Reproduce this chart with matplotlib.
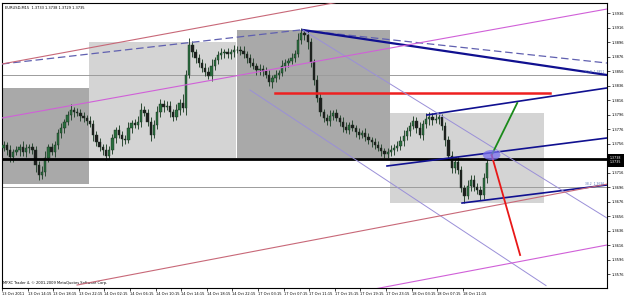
import matplotlib
matplotlib.use('Agg')
import matplotlib.pyplot as plt
from matplotlib.patches import Rectangle, Ellipse
import matplotlib.transforms as mtrans

# ---------------- data ----------------
symbol_header = "EURUSD,M15  1.3733 1.3738 1.3729 1.3735"
copyright_txt = "MFXC Trader 4, \u00a9 2001-2009 MetaQuotes Software Corp."

# closes of consecutive 30-minute candles (two M15 bars each)
closes = [
    1.3754, 1.3747, 1.3737, 1.3744, 1.3747, 1.3751, 1.3744, 1.3750, 1.3751, 1.3747,
    1.3726, 1.3712, 1.3717, 1.3736, 1.3751, 1.3744, 1.3754, 1.3770, 1.3777, 1.3786,
    1.3795, 1.3802, 1.3799, 1.3798, 1.3794, 1.3791, 1.3787, 1.3783, 1.3768, 1.3758,
    1.3751, 1.3747, 1.3739, 1.3747, 1.3764, 1.3775, 1.3768, 1.3762, 1.3761, 1.3777,
    1.3784, 1.3782, 1.3786, 1.3802, 1.3798, 1.3786, 1.3768, 1.3782, 1.3799, 1.3811,
    1.3806, 1.3808, 1.3799, 1.3793, 1.3802, 1.3812, 1.3805, 1.3851, 1.3892, 1.3882,
    1.3874, 1.3867, 1.3860, 1.3855, 1.3849, 1.3863, 1.3871, 1.3878, 1.3881, 1.3882,
    1.3879, 1.3882, 1.3885, 1.3885, 1.3884, 1.3879, 1.3874, 1.3867, 1.3863, 1.3857,
    1.3859, 1.3856, 1.3851, 1.3841, 1.3846, 1.3851, 1.3853, 1.3863, 1.3867, 1.3870,
    1.3874, 1.3879, 1.3899, 1.3908, 1.3906, 1.3896, 1.3868, 1.3844, 1.3819, 1.3799,
    1.3791, 1.3787, 1.3794, 1.3798, 1.3791, 1.3786, 1.3779, 1.3775, 1.3782, 1.3777,
    1.3772, 1.3768, 1.3770, 1.3765, 1.3761, 1.3758, 1.3754, 1.3750, 1.3746, 1.3742,
    1.3744, 1.3747, 1.3750, 1.3753, 1.3759, 1.3766, 1.3773, 1.3780, 1.3787, 1.3777,
    1.3768, 1.3783, 1.3790, 1.3793, 1.3788, 1.3790, 1.3793, 1.3780, 1.3761, 1.3739,
    1.3722, 1.3730, 1.3719, 1.3695, 1.3683, 1.3697, 1.3706, 1.3696, 1.3692, 1.3685,
    1.3708, 1.3729,
]
first_open = 1.3750
# wick lengths in pips above / below the candle body
up_wick = [6,4,7,5,6,4,8,5,4,6, 5,6,8,9,4,6,5,6,7,4, 6,8,4,6,5,6,4,7,6,5,
           6,4,8,6,5,4,7,5,6,9, 4,6,8,10,6,5,7,6,9,6, 5,7,6,4,9,6,12,7,10,6,
           4,6,5,7,6,9,4,6,7,5, 6,4,7,6,5,6,4,6,7,4, 6,5,6,7,4,6,5,8,6,4,
           7,6,9,8,6,5,6,4,7,6, 5,6,8,4,6,5,6,7,4,6, 4,6,5,7,6,4,6,5,6,4,
           6,7,5,6,8,9,6,5,7,6, 9,6,8,6,5,7,6,4,6,5, 6,5,8,6,4,9,6,7,5,6, 7,6]
down_wick = [5,7,6,6,4,8,5,6,7,5, 9,6,5,6,6,4,7,5,6,6, 5,6,6,4,7,5,6,4,9,6,
             5,7,6,4,6,7,5,9,6,4, 6,5,6,7,4,6,9,5,6,7, 6,4,7,6,5,7,6,9,4,6,
             7,5,6,6,4,7,6,5,6,7, 5,6,7,4,6,5,7,6,4,6, 6,7,5,6,9,5,6,4,7,6,
             5,6,4,6,7,9,6,7,6,5, 6,5,7,6,4,6,7,5,6,4, 7,6,4,6,5,7,6,4,7,6,
             6,5,7,4,6,6,5,7,4,6, 5,7,6,9,6,4,7,6,9,5, 6,7,5,6,9,4,6,5,6,7, 5,6]

time_labels = ["13 Oct 2011", "13 Oct 14:15", "13 Oct 18:15", "13 Oct 22:15",
               "14 Oct 02:15", "14 Oct 06:15", "14 Oct 10:15", "14 Oct 14:15",
               "14 Oct 18:15", "14 Oct 22:15", "17 Oct 03:15", "17 Oct 07:15",
               "17 Oct 11:15", "17 Oct 15:15", "17 Oct 19:15", "17 Oct 23:15",
               "18 Oct 03:15", "18 Oct 07:15", "18 Oct 11:15"]
price_ticks = [1.3936, 1.3916, 1.3896, 1.3876, 1.3856, 1.3836, 1.3816, 1.3796,
               1.3776, 1.3756, 1.3736, 1.3716, 1.3696, 1.3676, 1.3656, 1.3636,
               1.3616, 1.3596, 1.3576]
bid_ask = ["1.3738", "1.3735"]

# drawing objects (time in M15 bars from chart start, price)
rectangles = [  # t0, t1, price_top, price_bottom, kind
    (0.0, 54.4, 1.38326, 1.37001, "dark"),
    (54.4, 146.3, 1.38960, 1.37360, "light"),
    (146.9, 242.5, 1.39126, 1.37360, "dark"),
    (242.5, 338.8, 1.37981, 1.36739, "light"),
]
black_level = 1.37346
gray_levels = [1.38505, 1.36960]
level_labels = [(1.38505, "61.8  1.3851"), (1.36960, "38.2  1.3696")]
red_level = (170.6, 342.5, 1.38257)
dashed_arc = ([0.0, 186.3, 378.1], [1.38657, 1.39126, 1.38670])
navy_thick = ([188.0, 378.1], [1.39126, 1.38505])
navy_channel = [([265.6, 378.1], [1.37953, 1.38326]),
                ([240.6, 378.1], [1.37250, 1.37636]),
                ([287.5, 378.1], [1.36739, 1.36988])]
violet_lines = [([188.0, 378.1], [1.39126, 1.36532]),
                ([155.0, 340.0], [1.38298, 1.35600])]
pink_lines = [([0.0, 378.1], [1.37912, 1.39415]),
              ([220.0, 378.1], [1.35500, 1.36160])]
rosy_lines = [([0.0, 210.0], [1.38657, 1.39510]),
              ([46.9, 378.1], [1.35608, 1.37000])]
green_arrow = ([306.0, 322.0], [1.37401, 1.38119])
red_arrow = ([306.0, 323.8], [1.37401, 1.36022])
ellipse_center = (306.0, 1.37401)

# ---------------- figure ----------------
W, H = 625, 296
fig = plt.figure(figsize=(W / 100, H / 100), dpi=100)
fig.patch.set_facecolor("white")
top_px, bot_px, left_px, right_px = 3, 288, 2, 607
ax = fig.add_axes([left_px / W, 1 - bot_px / H, (right_px - left_px) / W, (bot_px - top_px) / H])
ax.set_facecolor("white")
ax.set_xlim(0, 378.1)
ax.set_ylim(1.35567, 1.39498)

for t0, t1, pt, pb, kind in rectangles:
    ax.add_patch(Rectangle((t0, pb), t1 - t0, pt - pb, facecolor="#a9a9a9" if kind == "dark" else "#d4d4d4",
                           edgecolor="none", zorder=1))

for g in gray_levels:
    ax.axhline(g, color="#9c9c9c", lw=0.7, zorder=2)

# candles
opens = [first_open] + closes[:-1]
for i, c in enumerate(closes):
    o = opens[i]
    t = 2 * i + 1
    hi = max(o, c) + up_wick[i] * 0.0001
    lo = min(o, c) - down_wick[i] * 0.0001
    up = c >= o
    ax.vlines(t, lo, hi, color="#2c4a34", lw=0.7, zorder=4)
    h = abs(c - o) if abs(c - o) > 0.00005 else 0.00005
    ax.bar(t, h, bottom=min(o, c), width=1.4, color="#2a6e3e" if up else "#1e1e1e",
           edgecolor="#1a2e20", linewidth=0.3, zorder=5)

ax.axhline(black_level, color="black", lw=2.0, zorder=6)
ax.plot([red_level[0], red_level[1]], [red_level[2]] * 2, color="#ee2020", lw=1.8, zorder=6)

ax.plot(*dashed_arc, color="#6060b0", lw=0.9, ls=(0, (6, 3)), zorder=6)
ax.plot(*navy_thick, color="#101090", lw=1.6, zorder=6)
for xs, ys in navy_channel:
    ax.plot(xs, ys, color="#101090", lw=1.2, zorder=6)
for xs, ys in violet_lines:
    ax.plot(xs, ys, color="#9a8fd8", lw=0.7, zorder=6)
for xs, ys in pink_lines:
    ax.plot(xs, ys, color="#d060d8", lw=0.8, zorder=6)
for xs, ys in rosy_lines:
    ax.plot(xs, ys, color="#c86878", lw=0.8, zorder=6)
ax.plot(*green_arrow, color="#1a8a1a", lw=1.3, zorder=7)
ax.plot(*red_arrow, color="#e81818", lw=1.3, zorder=7)
ax.add_patch(Ellipse(ellipse_center, 11.0, 0.0014, facecolor="#7a70f0", alpha=0.75,
                     edgecolor="none", zorder=8))

fs = 2.6
ax.text(0.005, 0.982, symbol_header, transform=ax.transAxes, fontsize=fs, va="center", ha="left", color="black")
ax.text(0.002, 0.012, copyright_txt, transform=ax.transAxes, fontsize=fs, va="bottom", ha="left", color="black")
trans = mtrans.blended_transform_factory(ax.transAxes, ax.transData)
for lvl, txt in level_labels:
    ax.text(0.995, lvl + 0.0002, txt, fontsize=2.2, color="#5a78b8", ha="right", va="bottom",
            transform=trans, zorder=9)

# axes styling
for s in ax.spines.values():
    s.set_color("black")
    s.set_linewidth(0.8)
ax.yaxis.tick_right()
ax.set_yticks(price_ticks)
# the label under the current-price box is hidden by the box, as on the terminal
ax.set_yticklabels(["" if abs(p - black_level) < 0.0005 else f"{p:.4f}" for p in price_ticks])
ax.tick_params(axis="y", direction="out", length=2, width=0.5, pad=1, labelsize=fs, colors="black")
ax.set_xticks([16 * k for k in range(len(time_labels))])
ax.set_xticklabels(time_labels)
for lab in ax.get_xticklabels():
    lab.set_ha("left")
ax.tick_params(axis="x", direction="out", length=2, width=0.5, pad=0.8, labelsize=fs, colors="black")

# current price box on the price scale
ax.add_patch(Rectangle((1.0, 1.37240), 0.028, 0.00180, transform=trans, facecolor="black",
                       edgecolor="none", clip_on=False, zorder=10))
ax.text(1.004, 1.37330, "\n".join(bid_ask), transform=trans, fontsize=2.3, color="white",
        va="center", ha="left", linespacing=1.15, zorder=11)

fig.savefig("out.png", dpi=100, facecolor="white")
